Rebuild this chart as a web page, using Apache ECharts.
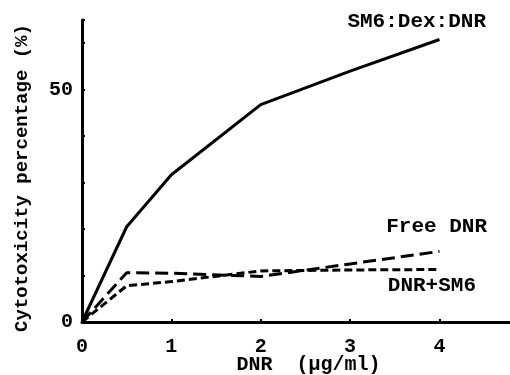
<!DOCTYPE html>
<html>
<head>
<meta charset="utf-8">
<script src="https://cdn.jsdelivr.net/npm/echarts@6/dist/echarts.min.js"></script>
<style>
  html, body { margin: 0; padding: 0; background: #fff; }
  #chart { width: 510px; height: 375px; }
</style>
</head>
<body>
<div id="chart"></div>
<script>
// values (DNR concentration in ug/ml, cytotoxicity in %)
var doses = [0, 0.5, 1, 2, 3, 4];
var sm6DexDnr = [0, 20.5, 31.7, 46.8, 54, 60.8];
var freeDnr = [0, 10.6, 10.5, 9.8, 12.5, 15.2];
var dnrSm6 = [0, 7.8, 8.7, 11.0, 11.2, 11.3];
var yLabelsShown = [0, 50];

var font = "Liberation Mono";

function pairs(ys) {
  return doses.map(function (d, i) {
    return [d, ys[i]];
  });
}

var chart = echarts.init(document.getElementById("chart"), null, { renderer: "canvas" });

var options = {
  animation: false,
  backgroundColor: "#fff",
  grid: {
    left: 82,
    top: 20,
    width: 429,
    height: 302,
    containLabel: false,
    outerBoundsMode: "none",
  },
  xAxis: {
    type: "value",
    min: 0,
    max: 4.8,
    interval: 1,
    name: "DNR  (\u00b5g/ml)",
    nameLocation: "middle",
    nameGap: 33,
    nameMoveOverlap: false,
    nameTextStyle: {
      fontFamily: font,
      fontWeight: "bold",
      fontSize: 20,
      color: "#000",
      padding: [0, 0, 0, 24],
    },
    axisLine: { lineStyle: { color: "#000", width: 3 } },
    axisTick: { inside: true, length: 3, lineStyle: { color: "#000", width: 2 } },
    axisLabel: {
      margin: 15,
      fontFamily: font,
      fontWeight: "bold",
      fontSize: 20,
      color: "#000",
      showMaxLabel: false,
    },
    splitLine: { show: false },
  },
  yAxis: {
    type: "value",
    min: 0,
    max: 65,
    interval: 10,
    name: "Cytotoxicity percentage (%)",
    nameLocation: "middle",
    nameGap: 50,
    nameMoveOverlap: false,
    nameTextStyle: {
      fontFamily: font,
      fontWeight: "bold",
      fontSize: 19,
      color: "#000",
      padding: [0, 14, 0, 0],
    },
    axisLine: { lineStyle: { color: "#000", width: 3 } },
    axisTick: { inside: true, length: 3, lineStyle: { color: "#000", width: 2 } },
    axisLabel: {
      margin: 9,
      fontFamily: font,
      fontWeight: "bold",
      fontSize: 20,
      color: "#000",
      formatter: function (v) {
        return yLabelsShown.indexOf(v) >= 0 ? String(v) : "";
      },
    },
    splitLine: { show: false },
  },
  series: [
    {
      name: "SM6:Dex:DNR",
      type: "line",
      data: pairs(sm6DexDnr),
      symbol: "none",
      lineStyle: { color: "#000", width: 3 },
    },
    {
      name: "Free DNR",
      type: "line",
      data: pairs(freeDnr),
      symbol: "none",
      lineStyle: { color: "#000", width: 3, type: [13, 6] },
    },
    {
      name: "DNR+SM6",
      type: "line",
      data: pairs(dnrSm6),
      symbol: "none",
      lineStyle: { color: "#000", width: 3, type: [8, 4] },
    },
  ],
  graphic: [
    {
      type: "text",
      right: 24,
      top: 11,
      style: { text: "SM6:Dex:DNR", font: "bold 21px 'Liberation Mono'", fill: "#000" },
    },
    {
      type: "text",
      right: 23,
      top: 216,
      style: { text: "Free DNR", font: "bold 21px 'Liberation Mono'", fill: "#000" },
    },
    {
      type: "text",
      right: 34,
      top: 275,
      style: { text: "DNR+SM6", font: "bold 21px 'Liberation Mono'", fill: "#000" },
    },
  ],
};

chart.setOption(options);
</script>
</body>
</html>
